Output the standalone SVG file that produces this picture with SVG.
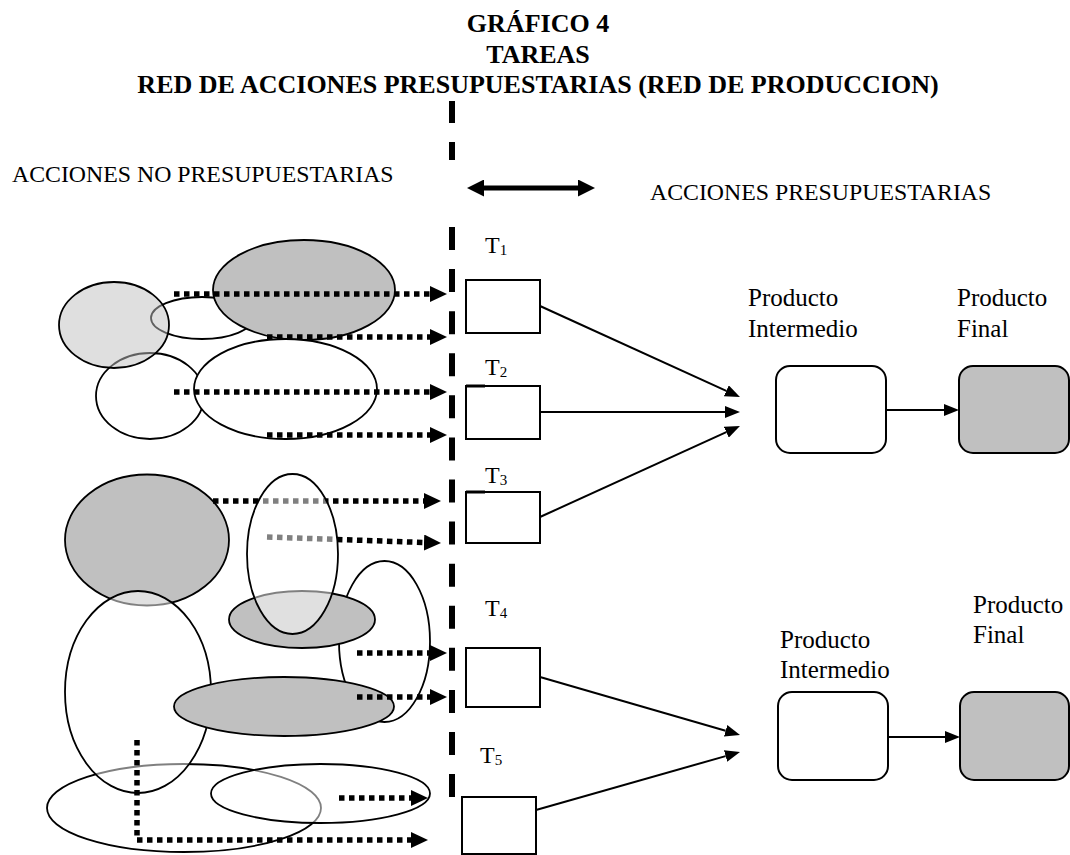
<svg xmlns="http://www.w3.org/2000/svg" width="1070" height="855" viewBox="0 0 1070 855">
<style>
.t{font-family:"Liberation Serif","Times New Roman",serif;fill:#000}
.title{font-size:26px;font-weight:bold;text-anchor:middle}
.lbl{font-size:23.8px}
.prod{font-size:25px}
.tk{font-size:24px}
.sub{font-size:15px}
.el{stroke:#000;stroke-width:1.8}
.w{fill:#fff}
.g{fill:#c0c0c0}
.lg{fill:#c0c0c0;fill-opacity:.5}
.sw{fill:#fff;fill-opacity:.5}
.box{fill:#fff;stroke:#000;stroke-width:2}
.dot{fill:none;stroke:#000;stroke-width:5.5;stroke-dasharray:5.5 4.5}
.sol{fill:none;stroke:#000;stroke-width:2}
</style>
<defs>
<marker id="dh" markerUnits="userSpaceOnUse" markerWidth="17" markerHeight="16" refX="0" refY="8" orient="auto" viewBox="0 0 17 16"><path d="M0,0 L17,8 L0,16 z" fill="#000"/></marker>
<marker id="sh" markerUnits="userSpaceOnUse" markerWidth="15" markerHeight="12" refX="0" refY="6" orient="auto" viewBox="0 0 15 12"><path d="M0,0 L15,6 L0,12 z" fill="#000"/></marker>
<marker id="bh" markerUnits="userSpaceOnUse" markerWidth="17" markerHeight="17" refX="0" refY="8.5" orient="auto-start-reverse" viewBox="0 0 17 17"><path d="M0,0 L17,8.5 L0,17 z" fill="#000"/></marker>
</defs>
<rect width="1070" height="855" fill="#fff"/>

<g id="title">
<text class="t title" x="538" y="32">GRÁFICO 4</text>
<text class="t title" x="538" y="63">TAREAS</text>
<text class="t title" x="538" y="93">RED DE ACCIONES PRESUPUESTARIAS (RED DE PRODUCCION)</text>
</g>
<g id="labels">
<text class="t lbl" x="12" y="182">ACCIONES NO PRESUPUESTARIAS</text>
<text class="t lbl" x="650" y="200">ACCIONES PRESUPUESTARIAS</text>
</g>

<g id="divider" stroke="#000" stroke-width="6">
<path d="M452,101 V123 M452,142 V160"/>
<line x1="452" y1="227" x2="452" y2="797" stroke-dasharray="23 19.08"/>
</g>

<g id="ellipses-top">
<ellipse id="eB" class="el w" cx="202" cy="318" rx="51" ry="21"/>
<ellipse id="eD" class="el w" cx="150" cy="396" rx="54" ry="43"/>
<ellipse id="eA" class="el lg" cx="114" cy="325" rx="55" ry="43"/>
<ellipse id="eC" class="el g" cx="304" cy="290" rx="91" ry="50"/>
<ellipse id="eE" class="el w" cx="285.5" cy="389" rx="91.5" ry="50"/>
</g>
<g id="ellipses-bottom">
<ellipse id="eF" class="el g" cx="147" cy="540" rx="82" ry="65.5"/>
<ellipse id="eJ" class="el w" cx="384.5" cy="641.5" rx="45.5" ry="80.5"/>
<ellipse id="eH" class="el g" cx="302" cy="619.5" rx="73" ry="28.5"/>
<ellipse id="eL" class="el w" cx="184" cy="808" rx="137" ry="44"/>
<ellipse id="eI" class="el sw" cx="138" cy="692" rx="73" ry="101"/>
<ellipse id="eK" class="el g" cx="284" cy="706.5" rx="110" ry="29.5"/>
<ellipse id="eM" class="el sw" cx="320.5" cy="793.5" rx="109.5" ry="29.5"/>
</g>

<g id="T1"><rect class="box" x="466" y="280" width="74" height="53"/><text class="t tk" x="485" y="253">T<tspan class="sub" dy="2">1</tspan></text></g>
<g id="T2"><rect class="box" x="466" y="386" width="74" height="53"/><line x1="466" y1="386" x2="485" y2="386" stroke="#000" stroke-width="3"/><text class="t tk" x="485" y="375">T<tspan class="sub" dy="2">2</tspan></text></g>
<g id="T3"><rect class="box" x="466" y="492" width="74" height="51"/><line x1="466" y1="492" x2="485" y2="492" stroke="#000" stroke-width="3"/><text class="t tk" x="485" y="483">T<tspan class="sub" dy="2">3</tspan></text></g>
<g id="T4"><rect class="box" x="466" y="648" width="74" height="59"/><text class="t tk" x="485" y="616">T<tspan class="sub" dy="2">4</tspan></text></g>
<g id="T5"><rect class="box" x="462" y="797" width="74" height="57"/><text class="t tk" x="480" y="763">T<tspan class="sub" dy="2">5</tspan></text></g>

<g id="PI1"><rect class="box" x="776" y="366" width="110" height="87" rx="14"/><text class="t prod" x="748" y="306">Producto</text><text class="t prod" x="748" y="337">Intermedio</text></g>
<g id="PF1"><rect class="box" style="fill:#c0c0c0" x="959" y="366" width="110" height="87" rx="14"/><text class="t prod" x="957" y="306">Producto</text><text class="t prod" x="957" y="337">Final</text></g>
<g id="PI2"><rect class="box" x="778" y="692" width="110" height="88" rx="14"/><text class="t prod" x="780" y="648">Producto</text><text class="t prod" x="780" y="678">Intermedio</text></g>
<g id="PF2"><rect class="box" style="fill:#c0c0c0" x="960" y="692" width="109" height="88" rx="14"/><text class="t prod" x="973" y="613">Producto</text><text class="t prod" x="973" y="643">Final</text></g>

<g id="connectors">
<line class="dot" x1="174" y1="294" x2="430" y2="294" marker-end="url(#dh)"/>
<line class="dot" x1="267" y1="337" x2="430" y2="337" marker-end="url(#dh)"/>
<line class="dot" x1="174" y1="392" x2="430" y2="392" marker-end="url(#dh)"/>
<line class="dot" x1="267" y1="435" x2="430" y2="435" marker-end="url(#dh)"/>
<line class="dot" x1="213" y1="501" x2="424" y2="501" marker-end="url(#dh)"/>
<line class="dot" x1="267" y1="537" x2="424" y2="542.5" marker-end="url(#dh)"/>
<line class="dot" x1="357" y1="653" x2="430" y2="653" marker-end="url(#dh)"/>
<line class="dot" x1="357" y1="697" x2="430" y2="697" marker-end="url(#dh)"/>
<line class="dot" x1="339" y1="798" x2="411" y2="798" marker-end="url(#dh)"/>
<path class="dot" d="M137,740 V840 H411" marker-end="url(#dh)"/>
<line class="sol" x1="540" y1="306" x2="726.3" y2="390.8" marker-end="url(#sh)"/>
<line class="sol" x1="540" y1="412" x2="725" y2="412" marker-end="url(#sh)"/>
<line class="sol" x1="540" y1="517" x2="726.3" y2="432.2" marker-end="url(#sh)"/>
<line class="sol" x1="540" y1="677" x2="725.6" y2="730.8" marker-end="url(#sh)"/>
<line class="sol" x1="536" y1="810" x2="725.6" y2="756.1" marker-end="url(#sh)"/>
<line class="sol" x1="886" y1="410" x2="944" y2="410" marker-end="url(#sh)"/>
<line class="sol" x1="888" y1="737" x2="945" y2="737" marker-end="url(#sh)"/>
<line x1="484" y1="188" x2="578" y2="188" stroke="#000" stroke-width="5" marker-start="url(#bh)" marker-end="url(#bh)"/>
</g>

<g id="ellipse-G">
<ellipse id="eG" class="el sw" cx="292.5" cy="554" rx="45.5" ry="80"/>
</g>
</svg>
